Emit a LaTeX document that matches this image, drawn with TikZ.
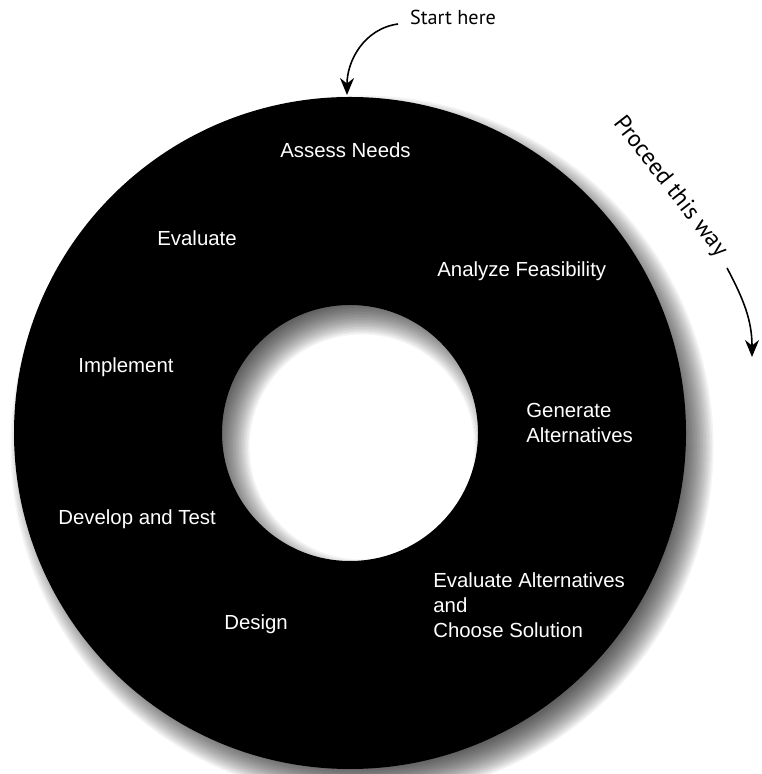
\documentclass[tikz,border=0pt]{standalone}
\usepackage{fontspec}
\setmainfont{Liberation Sans}
\newfontfamily\notefont{PT Sans}
\usetikzlibrary{arrows.meta}

\begin{document}
\begin{tikzpicture}[
	stage/.style={text=white, anchor=west, align=left, inner sep=0pt,
		font=\fontsize{11.6}{14.3}\selectfont},
	note/.style={inner sep=0pt, font=\notefont\fontsize{11.5}{13}\selectfont},
	pointer/.style={-{Stealth[length=3.4mm, width=2.8mm]}, line width=0.9pt}]
	\useasboundingbox (0, 0) rectangle (15.22, 15.48);
	\clip (0, 0) rectangle (15.22, 15.48);
	\coordinate (O) at (7.0, 6.82);
	\path (O) +(0.24, -0.28) coordinate (S);
	% soft shadow of the ring
	\foreach \d in {-0.32, -0.29, ..., 0.33}
		\fill[black, opacity=0.045, even odd rule] (S) circle ({6.72 + \d}) circle ({2.56 - \d});
	\fill[black, even odd rule] (O) circle (6.72) circle (2.56);
	% stages
	\node[stage] (needs) at (5.60, 12.48) {Assess Needs};
	\node[stage] (feas) at (8.74, 10.06) {Analyze Feasibility};
	\node[stage] (gen) at (10.52, 7.02) {Generate\\Alternatives};
	\node[stage] (choose) at (8.66, 3.38) {Evaluate Alternatives\\and\\Choose Solution};
	\node[stage] (design) at (4.48, 3.00) {Design};
	\node[stage] (devtest) at (1.16, 5.10) {Develop and Test};
	\node[stage] (impl) at (1.56, 8.14) {Implement};
	\node[stage] (eval) at (3.14, 10.72) {Evaluate};
	% annotations
	\node[note] (start) at (9.06, 15.14) {Start here};
	\coordinate (starttail) at (7.96, 15.0);
	\coordinate (starttip) at (6.94, 13.58);
	\draw[pointer] (starttail) to[out=188, in=90] (starttip);
	\node[note, rotate=-52, font=\notefont\fontsize{13.5}{15}\selectfont] (proceed) at (13.40, 11.74) {Proceed this way};
	\coordinate (proctail) at (14.54, 10.12);
	\coordinate (proctip) at (15.04, 8.34);
	\draw[pointer] (proctail) to[out=-62, in=90] (proctip);
\end{tikzpicture}
\end{document}
